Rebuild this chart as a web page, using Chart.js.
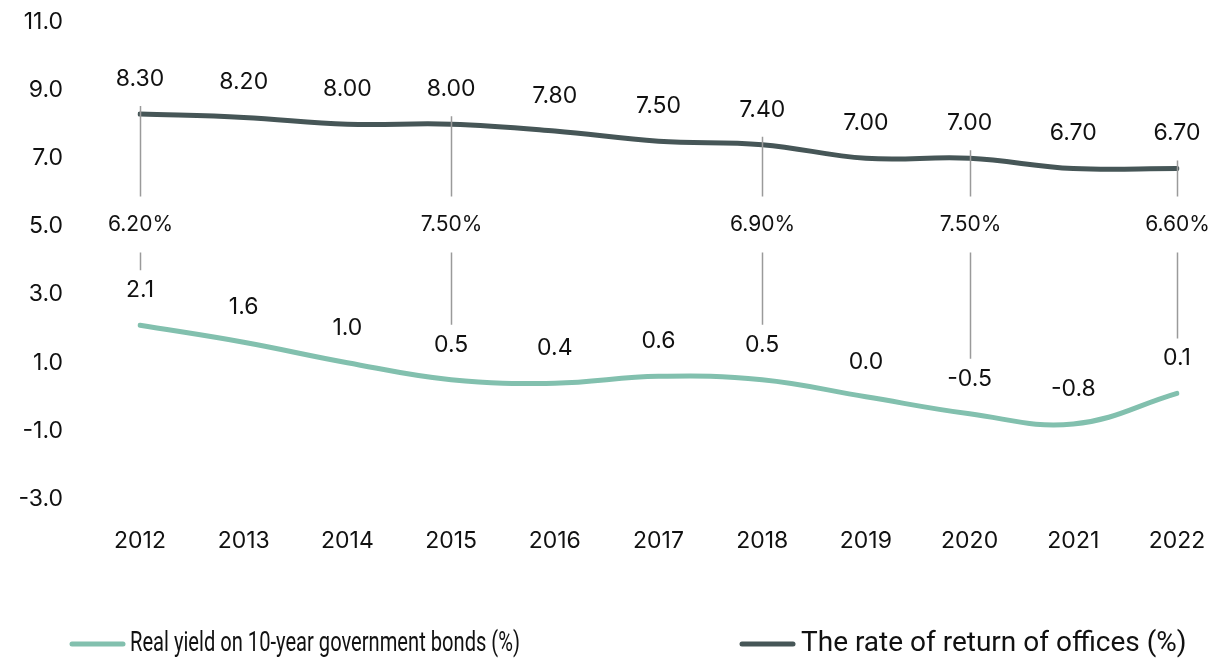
<!DOCTYPE html>
<html>
<head>
<meta charset="utf-8">
<script src="https://cdn.jsdelivr.net/npm/chart.js@4/dist/chart.umd.min.js"></script>
<style>
html,body{margin:0;padding:0;background:#fff;}
#wrap{width:1212px;height:661px;position:relative;}
</style>
</head>
<body>
<div id="wrap"><canvas id="c" width="1212" height="661"></canvas></div>
<script>
const years = ['2012','2013','2014','2015','2016','2017','2018','2019','2020','2021','2022'];
const realYield = [2.1, 1.6, 1.0, 0.5, 0.4, 0.6, 0.5, 0.0, -0.5, -0.8, 0.1];
const officeReturn = [8.30, 8.20, 8.00, 8.00, 7.80, 7.50, 7.40, 7.00, 7.00, 6.70, 6.70];
const calloutIndex = [0, 3, 6, 8, 10];
const calloutLabels = ['6.20%', '7.50%', '6.90%', '7.50%', '6.60%'];
const seriesNames = ['Real yield on 10-year government bonds (%)', 'The rate of return of offices (%)'];

const GREEN = '#82c0ae';
const DARK = '#465657';
const TXT = '#111111';
const FONT = 'Inter, "DejaVu Sans", sans-serif';

const overlay = {
  id: 'overlay',
  afterDatasetsDraw(chart) {
    const ctx = chart.ctx;
    const x = chart.scales.x, y = chart.scales.y;
    const mG = chart.getDatasetMeta(0), mD = chart.getDatasetMeta(1);
    ctx.save();
    const labelY = y.getPixelForValue(5.0);
    ctx.strokeStyle = '#9a9a9a';
    ctx.lineWidth = 1.5;
    calloutIndex.forEach((idx, k) => {
      const px = Math.round(x.getPixelForValue(idx)) + 0.5;
      const top = mD.data[idx].y - 8;
      const bot = mG.data[idx].y - 55;
      ctx.beginPath();
      ctx.moveTo(px, top); ctx.lineTo(px, labelY - 30);
      ctx.moveTo(px, labelY + 26); ctx.lineTo(px, bot);
      ctx.stroke();
      ctx.fillStyle = TXT;
      ctx.font = '21px ' + FONT;
      ctx.textAlign = 'center';
      ctx.textBaseline = 'middle';
      ctx.fillText(calloutLabels[k], px, labelY - 2);
    });
    ctx.fillStyle = TXT;
    ctx.font = '23px ' + FONT;
    ctx.textAlign = 'center';
    ctx.textBaseline = 'middle';
    mD.data.forEach((p, i) => ctx.fillText(officeReturn[i].toFixed(2), p.x, p.y - 35));
    mG.data.forEach((p, i) => ctx.fillText(realYield[i].toFixed(1), p.x, p.y - 35));
    ctx.restore();
  },
  afterDraw(chart) {
    const ctx = chart.ctx;
    ctx.save();
    ctx.font = '28px Roboto, sans-serif';
    ctx.textBaseline = 'middle';
    ctx.textAlign = 'left';
    const items = [
      {c: GREEN, t: seriesNames[0], x0: 70, tx: 130, maxW: 390},
      {c: DARK, t: seriesNames[1], x0: 740, tx: 801, maxW: 390}
    ];
    const ly = 644;
    items.forEach(it => {
      ctx.strokeStyle = it.c;
      ctx.lineWidth = 5;
      ctx.lineCap = 'round';
      ctx.beginPath();
      ctx.moveTo(it.x0 + 2, ly); ctx.lineTo(it.x0 + 53, ly);
      ctx.stroke();
      ctx.fillStyle = TXT;
      ctx.fillText(it.t, it.tx, ly, it.maxW);
    });
    ctx.restore();
  }
};

new Chart(document.getElementById('c'), {
  type: 'line',
  data: {
    labels: years,
    datasets: [
      {label: seriesNames[0], data: realYield, borderColor: GREEN, backgroundColor: GREEN, borderWidth: 5, pointRadius: 0, tension: 0.4, borderCapStyle: 'round'},
      {label: seriesNames[1], data: officeReturn, borderColor: DARK, backgroundColor: DARK, borderWidth: 5, pointRadius: 0, tension: 0.4, borderCapStyle: 'round'}
    ]
  },
  options: {
    responsive: false,
    animation: false,
    devicePixelRatio: 1,
    layout: {padding: {top: 22, right: 35, bottom: 102, left: 0}},
    plugins: {legend: {display: false}, tooltip: {enabled: false}},
    scales: {
      x: {
        offset: false,
        grid: {display: false, drawTicks: false},
        border: {display: false},
        ticks: {color: TXT, font: {family: FONT, size: 23}, padding: 28, maxRotation: 0, autoSkip: false},
        afterFit(s) { s.height = 60; s.paddingLeft = 0; s.paddingRight = 0; }
      },
      y: {
        min: -3, max: 11,
        grid: {display: false, drawTicks: false},
        border: {display: false},
        ticks: {stepSize: 2, color: TXT, font: {family: FONT, size: 23}, padding: 77, callback: v => v.toFixed(1)},
        afterFit(s) { s.width = 140; s.paddingTop = 0; s.paddingBottom = 0; }
      }
    }
  },
  plugins: [overlay]
});
</script>
</body>
</html>
